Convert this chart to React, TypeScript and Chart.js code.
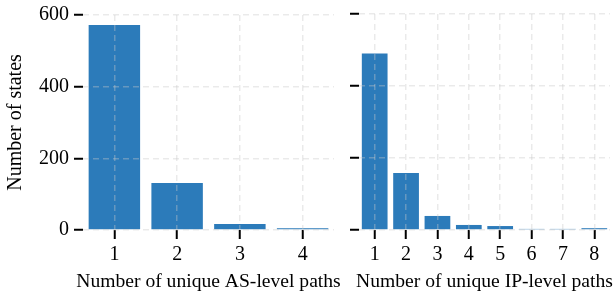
import React, { useEffect, useRef } from "react";
import { Chart, registerables } from "chart.js";
Chart.register(...registerables);

const asCategories = ["1", "2", "3", "4"];
const asCounts = [572, 131, 17, 5];
const ipCategories = ["1", "2", "3", "4", "5", "6", "7", "8"];
const ipCounts = [490, 158, 39, 14, 11, 3, 3, 5];
const yTickValues = [0, 200, 400, 600];
const yTitle = "Number of states";
const asTitle = "Number of unique AS-level paths";
const ipTitle = "Number of unique IP-level paths";

const FONT = "'Liberation Serif', 'Times New Roman', serif";
const BAR = "#2c7bba";
const GRID = "rgba(200,200,200,0.38)";

function makeConfig(labels: string[], data: number[], xTitle: string, showY: boolean, yWidth: number, padRight: number): any {
  const titlePlugin = {
    id: "xTitleText",
    afterDraw(chart: any) {
      const { ctx, chartArea } = chart;
      ctx.save();
      ctx.font = `19.6px ${FONT}`;
      ctx.fillStyle = "#000";
      ctx.textAlign = "center";
      ctx.textBaseline = "alphabetic";
      ctx.fillText(xTitle, (chartArea.left + chartArea.right) / 2, 287);
      ctx.restore();
    },
  };
  return {
    type: "bar",
    data: {
      labels,
      datasets: [
        {
          data,
          backgroundColor: BAR,
          borderWidth: 0,
          barPercentage: 0.82,
          categoryPercentage: 1,
        },
      ],
    },
    plugins: [titlePlugin],
    options: {
      responsive: false,
      animation: false,
      events: [],
      layout: { padding: { top: 14, right: padRight, left: 0, bottom: 0 } },
      plugins: { legend: { display: false }, tooltip: { enabled: false } },
      scales: {
        x: {
          offset: true,
          grid: {
            offset: false,
            color: GRID,
            lineWidth: 1.5,
            z: 1,
            drawTicks: true,
            tickLength: 9,
            tickColor: "#000",
            tickWidth: 2,
          },
          border: { display: false, dash: [6, 4] },
          ticks: { color: "#000", font: { family: FONT, size: 20 }, padding: 4, maxRotation: 0 },
          title: { display: false },
          afterFit: (s: any) => {
            s.height = 65;
          },
        },
        y: {
          min: 0,
          max: 600,
          afterBuildTicks: (s: any) => {
            s.ticks = yTickValues.map((v) => ({ value: v }));
          },
          grid: {
            color: GRID,
            lineWidth: 1.5,
            z: 1,
            drawTicks: true,
            tickLength: 9,
            tickColor: "#000",
            tickWidth: 2,
          },
          border: { display: false, dash: [6, 4] },
          ticks: { display: showY, color: "#000", font: { family: FONT, size: 20, lineHeight: 1 }, padding: 5 },
          title: { display: showY, text: yTitle, color: "#000", font: { family: FONT, size: 20 }, padding: { top: 4, bottom: 0 } },
          afterFit: (s: any) => {
            s.width = yWidth;
          },
        },
      },
    },
  };
}

export default function App() {
  const leftRef = useRef<HTMLCanvasElement>(null);
  const rightRef = useRef<HTMLCanvasElement>(null);
  useEffect(() => {
    const a = new Chart(leftRef.current!, makeConfig(asCategories, asCounts, asTitle, true, 83, 16));
    const b = new Chart(rightRef.current!, makeConfig(ipCategories, ipCounts, ipTitle, false, 19, 3));
    return () => {
      a.destroy();
      b.destroy();
    };
  }, []);
  return (
    <div style={{ position: "fixed", left: 0, top: 0, width: 613, height: 295, background: "#fff" }}>
      <canvas ref={leftRef} width={350} height={295} style={{ position: "absolute", left: 0, top: 0 }} />
      <canvas ref={rightRef} width={273} height={295} style={{ position: "absolute", left: 340, top: 0 }} />
    </div>
  );
}
